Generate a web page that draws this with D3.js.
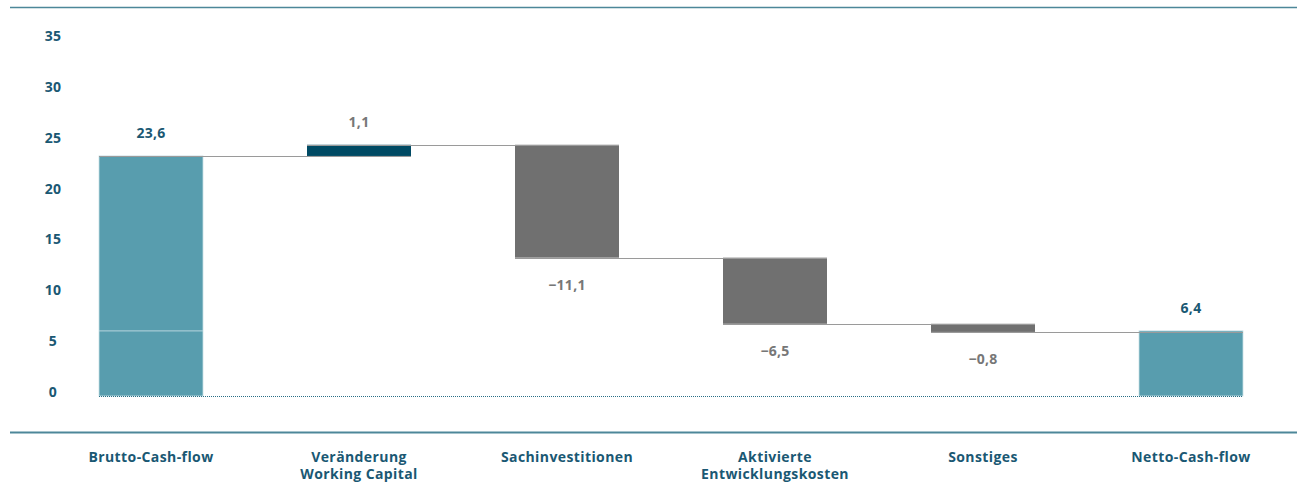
<!DOCTYPE html>
<html><head><meta charset="utf-8">
<script src="https://cdn.jsdelivr.net/npm/d3@7"></script>
<style>
body{margin:0;background:#fff;}
text{font-family:"Open Sans",sans-serif;font-weight:700;}
</style></head>
<body><svg id="c" width="1297" height="483"></svg>
<script>
const categories = [["Brutto-Cash-flow"],["Veränderung","Working Capital"],["Sachinvestitionen"],["Aktivierte","Entwicklungskosten"],["Sonstiges"],["Netto-Cash-flow"]];
const values = [23.6, 1.1, -11.1, -6.5, -0.8, 6.4];
const kinds = ["total","delta","delta","delta","delta","total"];
const labels = ["23,6","1,1","\u221211,1","\u22126,5","\u22120,8","6,4"];
const yTicks = [0,5,10,15,20,25,30,35];

const svg = d3.select("#c");
const W = 1297;
const x = d3.scaleBand().domain(d3.range(categories.length)).range([47,1295]).paddingInner(0.5).paddingOuter(0.25);
const y = d3.scaleLinear().domain([0,35]).range([396,40]);

let run = 0;
const bars = values.map((v,i)=>{
  let lo, hi, end;
  if (kinds[i]==="total"){ lo=0; hi=v; end=v; run=v; }
  else { const s=run; run=run+v; lo=Math.min(s,run); hi=Math.max(s,run); end=run; }
  return {i, v, lo, hi, end, kind:kinds[i]};
});

const teal="#1a5873";
svg.append("line").attr("x1",10).attr("x2",W).attr("y1",7.5).attr("y2",7.5).attr("stroke","#4d8799").attr("stroke-width",1.5);
svg.append("line").attr("x1",10).attr("x2",W).attr("y1",432.5).attr("y2",432.5).attr("stroke","#4d8799").attr("stroke-width",2);

svg.append("g").selectAll("text").data(yTicks).join("text")
  .attr("x",53).attr("y",d=>y(d)+1).attr("text-anchor","middle")
  .attr("font-size",14).attr("letter-spacing",0.3).attr("fill",teal).text(d=>d);

const color = b => b.kind==="total" ? "#589dae" : (b.v>0 ? "#004a64" : "#707070");

svg.append("g").selectAll("rect").data(bars).join("rect")
  .attr("x",b=>x(b.i)).attr("width",x.bandwidth())
  .attr("y",b=>y(b.hi)).attr("height",b=>y(b.lo)-y(b.hi))
  .attr("fill",color)
  .attr("stroke",b=>b.kind==="total"?"#c9e0e6":"none").attr("stroke-width",0.8);

svg.append("line").attr("x1",x(0)).attr("x2",x(0)+x.bandwidth())
  .attr("y1",y(values[values.length-1])).attr("y2",y(values[values.length-1]))
  .attr("stroke","#b8d6de").attr("stroke-width",1);

for(let i=0;i<bars.length-1;i++){
  const yy = Math.round(y(bars[i].end))+0.5;
  svg.append("line").attr("x1",x(i)).attr("x2",x(i+1)+x.bandwidth())
    .attr("y1",yy).attr("y2",yy).attr("stroke","#9a9a9a").attr("stroke-width",1.2);
}

svg.append("line").attr("x1",x(0)).attr("x2",x(5)+x.bandwidth())
  .attr("y1",y(0)+0.5).attr("y2",y(0)+0.5).attr("stroke","#2a6f86").attr("stroke-width",1).attr("stroke-dasharray","1,1");

svg.append("g").selectAll("text").data(bars).join("text")
  .attr("x",b=>x(b.i)+x.bandwidth()/2)
  .attr("y",b=> b.v>=0 ? y(b.hi)-18 : y(b.lo)+32)
  .attr("text-anchor","middle").attr("font-size",14).attr("letter-spacing",0.3)
  .attr("fill",b=>b.kind==="total"?teal:"#777777")
  .text((b,i)=>labels[i]);

const cg = svg.append("g").selectAll("text").data(categories).join("text")
  .attr("x",(d,i)=>x(i)+x.bandwidth()/2).attr("y",462)
  .attr("text-anchor","middle").attr("font-size",14).attr("letter-spacing",0.4).attr("fill",teal);
cg.selectAll("tspan").data(d=>d).join("tspan")
  .attr("x",function(){return this.parentNode.getAttribute("x");})
  .attr("dy",(d,j)=>j===0?0:17).text(d=>d);
</script></body></html>
